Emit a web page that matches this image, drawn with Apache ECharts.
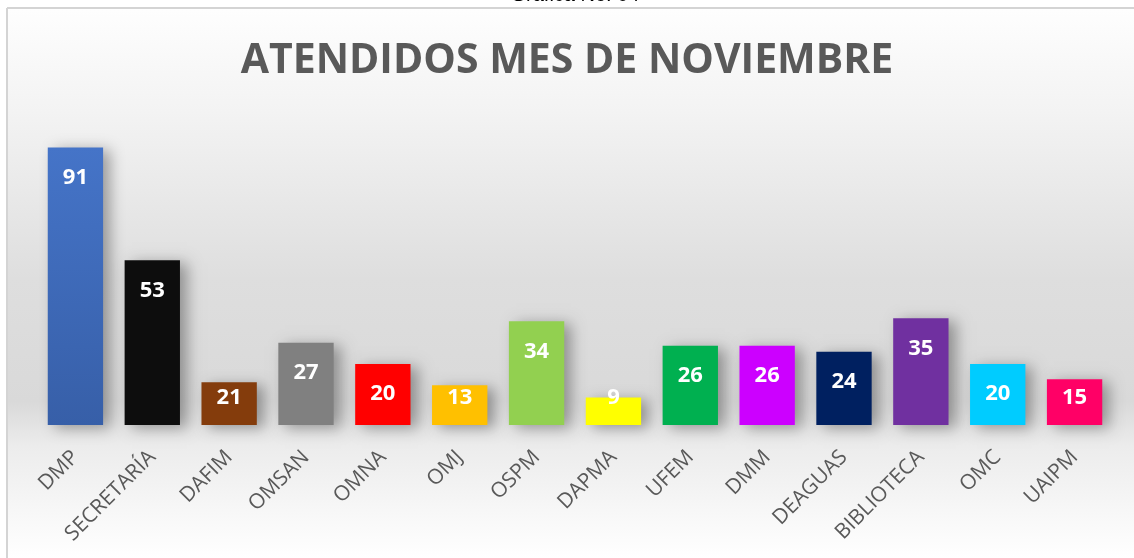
<!DOCTYPE html>
<html>
<head>
<meta charset="utf-8">
<script src="https://cdn.jsdelivr.net/npm/echarts@6/dist/echarts.min.js"></script>
<style>
html,body{margin:0;padding:0;background:#fff;}
#c{width:1134px;height:558px;}
</style>
</head>
<body>
<div id="c"></div>
<script>
const categories = ['DMP','SECRETARÍA','DAFIM','OMSAN','OMNA','OMJ','OSPM','DAPMA','UFEM','DMM','DEAGUAS','BIBLIOTECA','OMC','UAIPM'];
// bar heights as drawn in the picture
const barValues = [91,54,14,27,20,13,34,9,26,26,24,35,20,15];
// numbers printed on the bars
const labelTexts = ['91','53','21','27','20','13','34','9','26','26','24','35','20','15'];
const barColors = ['#4472c4','#0d0d0d','#843c0c','#808080','#ff0000','#ffc000','#92d050','#ffff00','#00b050','#cc00ff','#002060','#7030a0','#00ccff','#ff0066'];

const chart = echarts.init(document.getElementById('c'), null, {renderer:'canvas'});

const data = barValues.map((v,i)=>{
  let color = barColors[i];
  if (i === 0) {
    color = new echarts.graphic.LinearGradient(0,0,0,1,[{offset:0,color:'#4574c8'},{offset:1,color:'#375fa8'}]);
  }
  const short = v < 19;
  return {
    value: v,
    itemStyle: {color: color},
    label: short ? {position:'insideBottom', distance:16} : {position:'insideTop', distance:19}
  };
});

chart.setOption({
  backgroundColor: new echarts.graphic.LinearGradient(0,0,0,1,[
    {offset:0, color:'#ffffff'},
    {offset:0.2, color:'#f3f3f3'},
    {offset:0.5, color:'#dedede'},
    {offset:0.72, color:'#d9d9d9'},
    {offset:0.8, color:'#ececec'},
    {offset:1, color:'#ffffff'}
  ]),
  animation:false,
  title: {
    text: 'ATENDIDOS MES DE NOVIEMBRE',
    left: 'center',
    top: 36,
    textStyle: {fontFamily:'Open Sans', fontWeight:'bold', fontSize:41, color:'#595959'}
  },
  graphic: [
    {type:'rect', shape:{x:0,y:0,width:1134,height:8}, style:{fill:'#ffffff'}, silent:true},
    {type:'rect', shape:{x:0,y:0,width:6,height:558}, style:{fill:'#ffffff'}, silent:true},
    {type:'line', shape:{x1:7,y1:8,x2:1134,y2:8}, style:{stroke:'#d4d4d4', lineWidth:2}},
    {type:'line', shape:{x1:7,y1:8,x2:7,y2:558}, style:{stroke:'#d4d4d4', lineWidth:2}},
    {type:'text', x:575, y:5, style:{text:'Gráfica No. 04', fill:'#000', font:'20px "Liberation Sans"', textAlign:'center', textVerticalAlign:'bottom'}}
  ],
  grid: {left:37, right:21, top:120, bottom:133},
  xAxis: {
    type:'category',
    data: categories,
    axisLine:{show:false},
    axisTick:{show:false},
    axisLabel:{rotate:45, margin:29, interval:0, color:'#595959', fontFamily:'Open Sans', fontSize:21}
  },
  yAxis: {
    type:'value', min:0, max:100, show:false,
    splitLine:{show:false}
  },
  series: [{
    type:'bar',
    data: data,
    barCategoryGap:'28%',
    itemStyle:{shadowBlur:14, shadowOffsetX:7, shadowOffsetY:3, shadowColor:'rgba(0,0,0,0.35)'},
    label:{
      show:true,
      color:'#ffffff',
      fontFamily:'Open Sans',
      fontWeight:'bold',
      fontSize:22,
      lineHeight:22,
      formatter: p => labelTexts[p.dataIndex]
    }
  }]
});
</script>
</body>
</html>
